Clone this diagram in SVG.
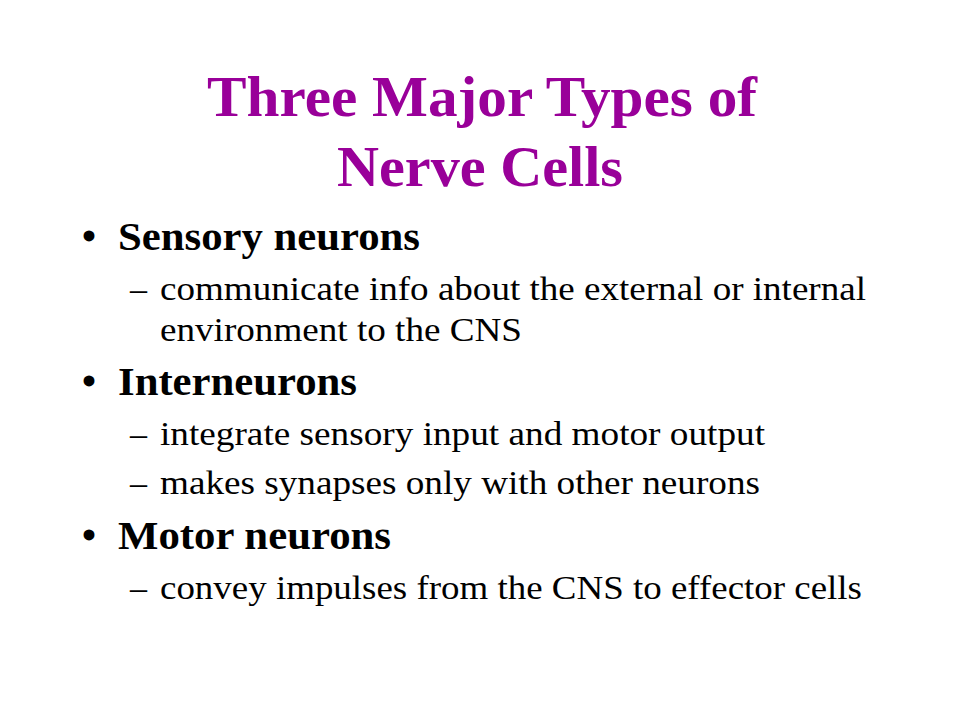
<svg xmlns="http://www.w3.org/2000/svg" width="960" height="720" viewBox="0 0 960 720">
<style>
.t{font-family:"Liberation Serif",serif;font-weight:bold;font-size:57px;fill:#990099}
.b{font-family:"Liberation Serif",serif;font-weight:bold;font-size:40px;fill:#000}
.s{font-family:"Liberation Serif",serif;font-size:34px;fill:#000}
</style>
<rect width="960" height="720" fill="#fff"/>
<text class="t" x="207" y="116" textLength="550" lengthAdjust="spacingAndGlyphs">Three Major Types of</text>
<text class="t" x="337" y="186" textLength="286" lengthAdjust="spacingAndGlyphs">Nerve Cells</text>
<text class="b" x="82" y="250">•</text><text class="b" x="118" y="250" textLength="302" lengthAdjust="spacingAndGlyphs">Sensory neurons</text>
<text class="s" x="130" y="300">–</text><text class="s" x="160" y="300" textLength="706" lengthAdjust="spacingAndGlyphs">communicate info about the external or internal</text>
<text class="s" x="160" y="341" textLength="362" lengthAdjust="spacingAndGlyphs">environment to the CNS</text>
<text class="b" x="82" y="395">•</text><text class="b" x="118" y="395" textLength="239" lengthAdjust="spacingAndGlyphs">Interneurons</text>
<text class="s" x="130" y="445">–</text><text class="s" x="160" y="445" textLength="605" lengthAdjust="spacingAndGlyphs">integrate sensory input and motor output</text>
<text class="s" x="130" y="494">–</text><text class="s" x="160" y="494" textLength="600" lengthAdjust="spacingAndGlyphs">makes synapses only with other neurons</text>
<text class="b" x="82" y="549">•</text><text class="b" x="118" y="549" textLength="273" lengthAdjust="spacingAndGlyphs">Motor neurons</text>
<text class="s" x="130" y="599">–</text><text class="s" x="160" y="599" textLength="702" lengthAdjust="spacingAndGlyphs">convey impulses from the CNS to effector cells</text>
</svg>
